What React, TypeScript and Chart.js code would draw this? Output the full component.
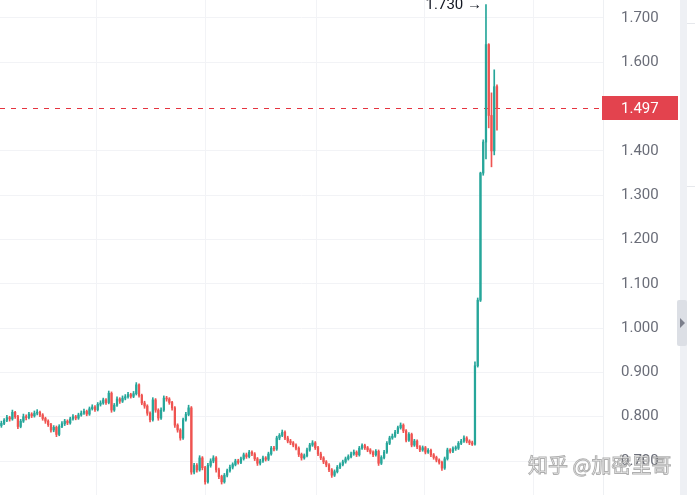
import React, { useEffect, useRef } from 'react';
import { Chart, registerables } from 'chart.js';

Chart.register(...registerables);

// ---- data ----
const firstOpen = 0.78;
const closes = [
  0.785, 0.792, 0.798, 0.795, 0.810, 0.800, 0.778, 0.790, 0.800, 0.798,
  0.806, 0.802, 0.808, 0.810, 0.804, 0.796, 0.790, 0.782, 0.770, 0.776,
  0.760, 0.778, 0.784, 0.790, 0.786, 0.795, 0.800, 0.797, 0.804, 0.808,
  0.812, 0.806, 0.818, 0.822, 0.816, 0.828, 0.831, 0.838, 0.832, 0.853,
  0.815, 0.826, 0.840, 0.835, 0.842, 0.845, 0.850, 0.846, 0.852, 0.872,
  0.848, 0.831, 0.824, 0.808, 0.793, 0.838, 0.815, 0.797, 0.815, 0.842,
  0.840, 0.832, 0.820, 0.781, 0.770, 0.752, 0.793, 0.805, 0.820, 0.675,
  0.690, 0.680, 0.707, 0.685, 0.653, 0.690, 0.700, 0.707, 0.680, 0.665,
  0.653, 0.668, 0.678, 0.686, 0.692, 0.700, 0.697, 0.705, 0.714, 0.710,
  0.720, 0.716, 0.705, 0.695, 0.700, 0.707, 0.704, 0.716, 0.729, 0.727,
  0.752, 0.758, 0.765, 0.752, 0.745, 0.741, 0.736, 0.729, 0.715, 0.707,
  0.712, 0.725, 0.736, 0.741, 0.730, 0.716, 0.707, 0.698, 0.691, 0.680,
  0.668, 0.676, 0.686, 0.692, 0.698, 0.705, 0.710, 0.716, 0.720, 0.714,
  0.729, 0.735, 0.730, 0.725, 0.720, 0.714, 0.722, 0.695, 0.708, 0.720,
  0.740, 0.752, 0.756, 0.765, 0.775, 0.781, 0.768, 0.747, 0.760, 0.736,
  0.745, 0.732, 0.725, 0.730, 0.720, 0.724, 0.714, 0.708, 0.702, 0.697,
  0.684, 0.705, 0.725, 0.722, 0.728, 0.729, 0.740, 0.745, 0.752, 0.745,
  0.741, 0.738, 0.915, 1.063, 1.350, 1.420, 1.640, 1.480, 1.400, 1.545,
  1.497,
];
const highs = [
  0.790, 0.796, 0.803, 0.801, 0.815, 0.812, 0.803, 0.794, 0.806, 0.804,
  0.810, 0.809, 0.813, 0.816, 0.813, 0.807, 0.799, 0.793, 0.785, 0.780,
  0.779, 0.782, 0.789, 0.794, 0.793, 0.799, 0.805, 0.803, 0.808, 0.813,
  0.817, 0.815, 0.822, 0.827, 0.825, 0.832, 0.836, 0.842, 0.841, 0.858,
  0.856, 0.830, 0.845, 0.843, 0.847, 0.850, 0.855, 0.853, 0.857, 0.877,
  0.874, 0.851, 0.835, 0.827, 0.811, 0.843, 0.841, 0.818, 0.820, 0.847,
  0.846, 0.843, 0.835, 0.823, 0.784, 0.773, 0.797, 0.810, 0.826, 0.823,
  0.695, 0.694, 0.712, 0.710, 0.688, 0.695, 0.705, 0.712, 0.710, 0.684,
  0.668, 0.672, 0.682, 0.691, 0.696, 0.704, 0.704, 0.709, 0.718, 0.718,
  0.724, 0.723, 0.719, 0.708, 0.704, 0.711, 0.710, 0.720, 0.733, 0.733,
  0.756, 0.762, 0.770, 0.768, 0.756, 0.749, 0.744, 0.739, 0.732, 0.718,
  0.716, 0.729, 0.740, 0.746, 0.744, 0.733, 0.720, 0.710, 0.701, 0.694,
  0.683, 0.680, 0.690, 0.696, 0.702, 0.709, 0.714, 0.720, 0.725, 0.723,
  0.733, 0.739, 0.738, 0.733, 0.728, 0.723, 0.726, 0.725, 0.712, 0.724,
  0.744, 0.756, 0.761, 0.769, 0.779, 0.786, 0.784, 0.771, 0.764, 0.763,
  0.749, 0.748, 0.735, 0.734, 0.733, 0.728, 0.727, 0.717, 0.711, 0.705,
  0.700, 0.709, 0.729, 0.728, 0.732, 0.734, 0.744, 0.749, 0.757, 0.755,
  0.748, 0.745, 0.924, 1.068, 1.352, 1.425, 1.730, 1.642, 1.531, 1.583,
  1.549,
];
const lows = [
  0.776, 0.782, 0.789, 0.790, 0.792, 0.796, 0.773, 0.775, 0.787, 0.793,
  0.795, 0.798, 0.799, 0.804, 0.800, 0.792, 0.785, 0.778, 0.765, 0.766,
  0.755, 0.757, 0.775, 0.780, 0.782, 0.783, 0.792, 0.793, 0.794, 0.801,
  0.805, 0.802, 0.803, 0.815, 0.812, 0.813, 0.824, 0.828, 0.828, 0.829,
  0.810, 0.812, 0.823, 0.830, 0.832, 0.838, 0.842, 0.842, 0.843, 0.849,
  0.844, 0.827, 0.819, 0.803, 0.788, 0.790, 0.810, 0.792, 0.794, 0.812,
  0.835, 0.828, 0.815, 0.776, 0.765, 0.747, 0.749, 0.790, 0.802, 0.670,
  0.671, 0.675, 0.677, 0.680, 0.648, 0.650, 0.686, 0.696, 0.675, 0.660,
  0.648, 0.650, 0.664, 0.675, 0.682, 0.689, 0.693, 0.694, 0.702, 0.706,
  0.707, 0.712, 0.701, 0.690, 0.691, 0.697, 0.700, 0.701, 0.713, 0.723,
  0.724, 0.748, 0.755, 0.748, 0.741, 0.737, 0.732, 0.725, 0.710, 0.702,
  0.704, 0.709, 0.722, 0.733, 0.726, 0.712, 0.703, 0.694, 0.687, 0.676,
  0.663, 0.665, 0.673, 0.683, 0.689, 0.695, 0.702, 0.707, 0.713, 0.710,
  0.711, 0.726, 0.726, 0.721, 0.716, 0.710, 0.711, 0.690, 0.692, 0.705,
  0.717, 0.737, 0.749, 0.753, 0.762, 0.772, 0.764, 0.743, 0.744, 0.732,
  0.733, 0.728, 0.721, 0.722, 0.716, 0.717, 0.710, 0.704, 0.698, 0.693,
  0.679, 0.681, 0.702, 0.718, 0.719, 0.724, 0.726, 0.737, 0.742, 0.741,
  0.737, 0.735, 0.736, 0.912, 1.060, 1.345, 1.382, 1.452, 1.364, 1.391,
  1.447,
];
const yTicks = [0.7, 0.8, 0.9, 1.0, 1.1, 1.2, 1.3, 1.4, 1.6, 1.7];
const timeGridTicks = [34.7, 74.3, 114.3, 153.5, 193.1];
const totalSlots = 219;
const lastPrice = 1.497;
const peakIndex = 176;
const peakValue = 1.73;
const peakLabel = '1.730 →';
const watermark = '知乎 @加密里哥';

const UP = '#26a69a';
const DOWN = '#ef5350';

const opens = closes.map((c, i) => (i === 0 ? firstOpen : closes[i - 1]));

export default function App() {
  const ref = useRef<HTMLCanvasElement | null>(null);

  useEffect(() => {
    document.body.style.margin = '0';
    const canvas = ref.current;
    if (!canvas) return;
    const colors = closes.map((c, i) => (c >= opens[i] ? UP : DOWN));

    const overlay = {
      id: 'overlay',
      beforeDatasetsDraw(chart: any) {
        const { ctx, chartArea, scales } = chart;
        const y = Math.round(scales.y.getPixelForValue(lastPrice)) + 0.5;
        ctx.save();
        ctx.strokeStyle = '#e5333f';
        ctx.lineWidth = 1;
        ctx.setLineDash([5, 6]);
        ctx.beginPath();
        ctx.moveTo(chartArea.left, y);
        ctx.lineTo(chartArea.right, y);
        ctx.stroke();
        ctx.restore();
      },
      afterDraw(chart: any) {
        const { ctx, chartArea, scales, width, height } = chart;
        const y = scales.y.getPixelForValue(lastPrice);
        ctx.save();
        // price label box
        ctx.fillStyle = '#e3434e';
        ctx.fillRect(chartArea.right - 1, Math.round(y) - 12, 76, 24);
        ctx.fillStyle = '#ffffff';
        ctx.font = '15px Roboto';
        ctx.textAlign = 'left';
        ctx.textBaseline = 'middle';
        ctx.fillText(lastPrice.toFixed(3), chartArea.right + 18, y + 1);

        // peak annotation
        const px = scales.x.getPixelForValue(peakIndex);
        const py = scales.y.getPixelForValue(peakValue);
        ctx.fillStyle = '#131722';
        ctx.textAlign = 'right';
        ctx.font = '15px Roboto';
        ctx.fillText(peakLabel, px - 4, py + 1);

        // right side strip
        ctx.fillStyle = '#eef0f4';
        ctx.fillRect(680, 0, 7, height);
        ctx.fillStyle = '#dcdfe5';
        ctx.beginPath();
        ctx.roundRect(677, 300, 10, 46, 2);
        ctx.fill();
        ctx.fillStyle = '#7b7f8b';
        ctx.beginPath();
        ctx.moveTo(680, 318);
        ctx.lineTo(685, 323);
        ctx.lineTo(680, 328);
        ctx.closePath();
        ctx.fill();
        ctx.strokeStyle = '#e6e8ec';
        ctx.lineWidth = 1;
        ctx.beginPath();
        ctx.moveTo(687, 23.5);
        ctx.lineTo(width, 23.5);
        ctx.moveTo(687, 186.5);
        ctx.lineTo(width, 186.5);
        ctx.stroke();

        // watermark
        ctx.font = '20px "Noto Sans CJK SC"';
        ctx.textAlign = 'left';
        ctx.textBaseline = 'middle';
        ctx.lineWidth = 1;
        ctx.strokeStyle = 'rgba(110,110,110,0.55)';
        ctx.fillStyle = 'rgba(255,255,255,0.85)';
        ctx.fillText(watermark, 528, 465);
        ctx.strokeText(watermark, 528, 465);
        ctx.restore();
      },
    };

    const chart = new Chart(canvas, {
      type: 'bar',
      data: {
        datasets: [
          {
            label: 'body',
            data: closes.map((c, i) => ({ x: i, y: [opens[i], c] })) as any,
            backgroundColor: colors,
            barThickness: 1.6,
            minBarLength: 1,
            grouped: false,
            order: 0,
          },
          {
            label: 'wick',
            data: closes.map((c, i) => ({ x: i, y: [lows[i], highs[i]] })) as any,
            backgroundColor: colors,
            barThickness: 1,
            grouped: false,
            order: 1,
          },
        ],
      },
      options: {
        responsive: false,
        animation: false,
        devicePixelRatio: 1,
        layout: { padding: 0, autoPadding: false },
        plugins: { legend: { display: false }, tooltip: { enabled: false } },
        scales: {
          x: {
            type: 'linear',
            min: -0.5,
            max: totalSlots - 0.5,
            offset: false,
            afterBuildTicks: (s: any) => {
              s.ticks = timeGridTicks.map((v) => ({ value: v }));
            },
            afterFit: (s: any) => {
              s.height = 0;
            },
            ticks: { display: false },
            grid: { color: '#f2f3f6', drawTicks: false, offset: false },
            border: { display: false },
          },
          y: {
            position: 'right',
            min: 0.6233,
            max: 1.7406,
            afterBuildTicks: (s: any) => {
              s.ticks = yTicks.map((v) => ({ value: v }));
            },
            afterFit: (s: any) => {
              s.width = 92;
              s.paddingTop = 0;
              s.paddingBottom = 0;
            },
            grid: { color: '#f2f3f6', drawTicks: true, tickLength: 18, tickColor: 'rgba(0,0,0,0)' },
            border: { display: true, color: '#eef0f3' },
            ticks: {
              padding: 0,
              color: '#6a6d78',
              font: { size: 15, family: 'Roboto', lineHeight: 0.05 },
              callback: (v: any) => Number(v).toFixed(3),
            },
          },
        },
      } as any,
      plugins: [overlay],
    });
    return () => chart.destroy();
  }, []);

  return <canvas ref={ref} width={695} height={495} style={{ display: 'block', width: 695, height: 495 }} />;
}
